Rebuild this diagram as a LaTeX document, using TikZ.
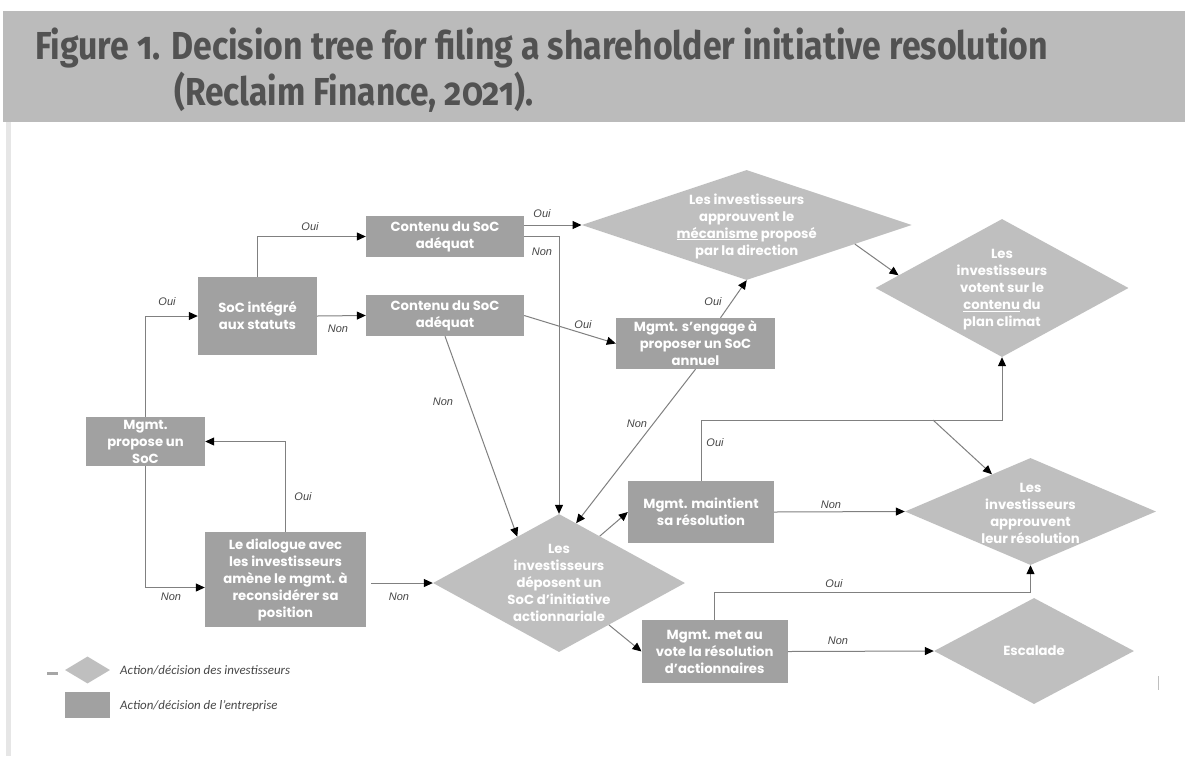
\documentclass[tikz,border=0pt]{standalone}
\usepackage{fontspec}
\usepackage{graphicx}
\usetikzlibrary{shapes.geometric,arrows.meta}
\newfontfamily\boxfont{Poppins}
\newfontfamily\labfont{Liberation Sans}
\newfontfamily\legfont{Carlito}
\newfontfamily\titlefont{Fira Sans}[Numbers=OldStyle]
\definecolor{band}{RGB}{187,187,187}
\definecolor{titletext}{RGB}{82,82,82}
\definecolor{corpbox}{RGB}{161,161,161}
\definecolor{invdia}{RGB}{191,191,191}
\definecolor{wire}{RGB}{128,128,128}
\definecolor{labtext}{RGB}{70,70,70}
\definecolor{sidebar}{RGB}{230,230,230}
\tikzset{
  corp/.style={rectangle, fill=corpbox, inner sep=0pt, text=white, align=center,
    font=\boxfont\bfseries\fontsize{13.2}{17}\selectfont},
  inv/.style={diamond, fill=invdia, inner sep=0pt},
  invtext/.style={text=white, align=center, inner sep=0pt,
    font=\boxfont\bfseries\fontsize{13.2}{17}\selectfont},
  arr/.style={draw=wire, line width=1pt, -{Triangle[length=9pt,width=8pt,color=black]}},
  lab/.style={font=\labfont\itshape\fontsize{11}{13}\selectfont, text=labtext, inner sep=0pt},
  legtext/.style={font=\legfont\itshape\fontsize{12.9}{14}\selectfont, text=labtext, inner sep=0pt, anchor=west},
  titletxt/.style={anchor=base west, inner sep=0pt, text=titletext,
    font=\titlefont\bfseries\fontsize{39}{40}\selectfont},
}
\begin{document}
\begin{tikzpicture}[x=1pt,y=-1pt]
\useasboundingbox (0,0) rectangle (1185,756);
\fill[white] (0,0) rectangle (1185,756);

% heading band and side rule
\fill[band] (3,11) rectangle (1185,122);
\fill[sidebar] (6,122) rectangle (11,756);
\node[titletxt] (t1) at (35,59) {\resizebox{1013pt}{\height}{Figure 1. Decision tree for filing a shareholder initiative resolution}};
\node[titletxt] (t2) at (174,105) {\resizebox{359pt}{\height}{(Reclaim Finance, 2021).}};

% company actions (rectangles)
\node[corp, minimum width=119pt, minimum height=78pt] (soc) at (257.5,316) {SoC intégré\\aux statuts};
\node[corp, minimum width=158pt, minimum height=41pt] (c1) at (445,236.5) {Contenu du SoC\\adéquat};
\node[corp, minimum width=158pt, minimum height=41pt] (c2) at (445,315.5) {Contenu du SoC\\adéquat};
\node[corp, minimum width=119pt, minimum height=49pt] (prop) at (145.5,441.5) {Mgmt.\\propose un\\SoC};
\node[corp, minimum width=161pt, minimum height=95pt] (dial) at (285.5,579.5) {Le dialogue avec\\les investisseurs\\amène le mgmt. à\\reconsidérer sa\\position};
\node[corp, minimum width=159pt, minimum height=51pt] (eng) at (695.5,343.5) {Mgmt. s’engage à\\proposer un SoC\\annuel};
\node[corp, minimum width=146pt, minimum height=62pt] (maint) at (701,512) {Mgmt. maintient\\sa résolution};
\node[corp, minimum width=146pt, minimum height=63pt] (vote) at (714.7,651.5) {Mgmt. met au\\vote la résolution\\d’actionnaires};

% investor actions (diamonds)
\node[inv, minimum width=330pt, minimum height=110pt] (A) at (746.7,225) {};
\node[invtext] (At) at (746.7,226) {Les investisseurs\\approuvent le\\\underline{mécanisme} proposé\\par la direction};
\node[inv, minimum width=253pt, minimum height=138pt] (B) at (1002,288) {};
\node[invtext] (Bt) at (1002,290) {Les\\investisseurs\\votent sur le\\\underline{contenu} du\\plan climat};
\node[inv, minimum width=251pt, minimum height=107pt] (C) at (1030.5,511.5) {};
\node[invtext] (Ct) at (1030.5,513) {Les\\investisseurs\\approuvent\\leur résolution};
\node[inv, minimum width=200pt, minimum height=106pt] (D) at (1034,651) {};
\node[invtext] (Dt) at (1034,651) {Escalade};
\node[inv, minimum width=252pt, minimum height=138pt] (E) at (559,583) {};
\node[invtext] (Et) at (559,583) {Les\\investisseurs\\déposent un\\SoC d’initiative\\actionnariale};

% junction where the Oui branch splits
\coordinate (oj) at (933,420);

% connectors
\draw[arr] (prop.north) |- (soc.west);
\draw[arr] (soc.north) |- (c1.west);
\draw[arr] (soc.east) -- (c2.west);
\draw[arr] (c1.east |- A.west) -- (A.west);
\draw[arr] (c1.east) -| (E.north);
\draw[arr] (c2.south) -- (E.132);
\draw[arr] (c2.east) -- (eng.west);
\draw[arr] ([xshift=25pt]eng.north) -- (A.south);
\draw[arr] (eng.south) -- (E.74);
\draw[arr] (dial.north) |- (prop.east);
\draw[arr] (prop.south) |- ([yshift=-8pt]dial.west);
\draw[arr] ([xshift=5pt]dial.east |- E.west) -- (E.west);
\draw[arr] (E.49) -- (maint.west);
\draw[arr] (E.-40) -- (vote.west);
\draw[arr] (A.-10) -- (B.173);
\draw[arr] (maint.north) |- (oj) -| (B.south);
\draw[arr] (oj) -- (C.136);
\draw[arr] (maint.east) -- (C.west);
\draw[arr] (vote.north) -- ++(0,-27) -| (C.south);
\draw[arr] (vote.east) -- (D.west);

% branch labels
\node[lab] (l1) at (167,302) {Oui};
\node[lab] (l2) at (310,227) {Oui};
\node[lab] (l3) at (338,329) {Non};
\node[lab] (l4) at (542,214) {Oui};
\node[lab] (l5) at (542,252) {Non};
\node[lab] (l6) at (443,402) {Non};
\node[lab] (l7) at (583,325) {Oui};
\node[lab] (l8) at (713,302) {Oui};
\node[lab] (l9) at (637,424) {Non};
\node[lab] (l10) at (303,497) {Oui};
\node[lab] (l11) at (171,597) {Non};
\node[lab] (l12) at (399,597) {Non};
\node[lab] (l13) at (715,443) {Oui};
\node[lab] (l14) at (831,505) {Non};
\node[lab] (l15) at (834,584) {Oui};
\node[lab] (l16) at (838,641) {Non};

% legend
\node[inv, minimum width=45pt, minimum height=27pt] (kd) at (87.5,670) {};
\node[rectangle, fill=corpbox, minimum width=45pt, minimum height=26pt, inner sep=0pt] (kb) at (87.5,704.7) {};
\node[legtext] (kdt) at (120,670) {Action/décision des investisseurs};
\node[legtext] (kbt) at (120,706) {Action/décision de l’entreprise};
\fill[black!35] (47,672) rectangle (58,674.5);
\draw[black!25, line width=0.6pt] (1158,676) -- (1158,690);
\end{tikzpicture}
\end{document}
